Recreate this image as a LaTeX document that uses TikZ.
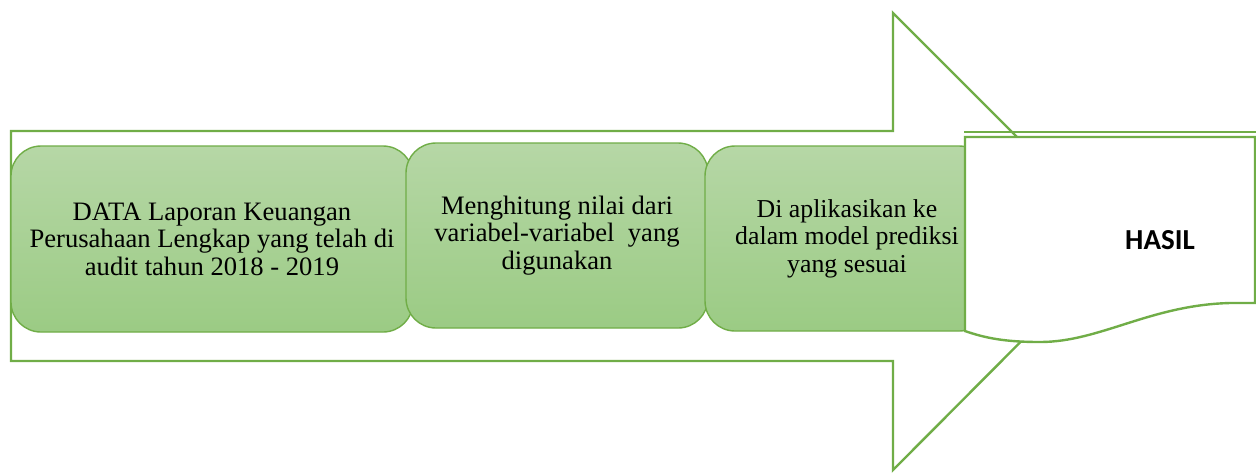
\documentclass[tikz,border=0pt]{standalone}
\usepackage{fontspec}
\setmainfont{Liberation Serif}
\newfontfamily\hasilfont{Carlito}
\usetikzlibrary{positioning}
\definecolor{arrowgreen}{RGB}{112,173,71}
\definecolor{boxtop}{RGB}{182,215,166}
\definecolor{boxbottom}{RGB}{155,203,132}

\begin{document}
\begin{tikzpicture}[
    x=0.5pt, y=-0.5pt,
    bigarrow/.style={draw=arrowgreen, line width=1.2pt, fill=white, line join=miter},
    stage/.style={rectangle, rounded corners=15pt, draw=arrowgreen, line width=0.7pt, top color=boxtop, bottom color=boxbottom, align=center, inner sep=0pt, font=\fontsize{13.3}{13.8}\selectfont},
    docshape/.style={draw=arrowgreen, line width=1.2pt, fill=white},
    result/.style={font=\hasilfont\bfseries\fontsize{14.5}{16}\selectfont}
]
\useasboundingbox (0,0) rectangle (1256,473);

% Big arrow
\draw[bigarrow] (11,131) -- (893,131) -- (893,13) -- (1121,241) -- (893,470) -- (893,361) -- (11,361) -- cycle;

% Stages
\node[stage, minimum width=201pt, minimum height=93pt] (data) at (212,239) {DATA Laporan Keuangan\\Perusahaan Lengkap yang telah di\\audit tahun 2018 - 2019};
\node[stage, minimum width=151pt, minimum height=92.5pt] (hitung) at (557,235.5) {Menghitung nilai dari\\variabel-variabel\ \ yang\\digunakan};
\node[stage, minimum width=142pt, minimum height=92.5pt, font=\fontsize{12.9}{13.8}\selectfont] (model) at (847,238.5) {Di aplikasikan ke\\dalam model prediksi\\yang sesuai};

% Result (document shape)
\draw[docshape] (965,137) -- (1255,137) -- (1255,303) -- (1230,303)
    .. controls (1150,305) and (1100,342) .. (1040,342)
    .. controls (1005,342) and (985,338) .. (965,331) -- cycle;
\draw[arrowgreen, line width=1.2pt] (964,132) -- (1256,132);
\node[result] (hasil) at (1160,240) {HASIL};

\end{tikzpicture}
\end{document}
